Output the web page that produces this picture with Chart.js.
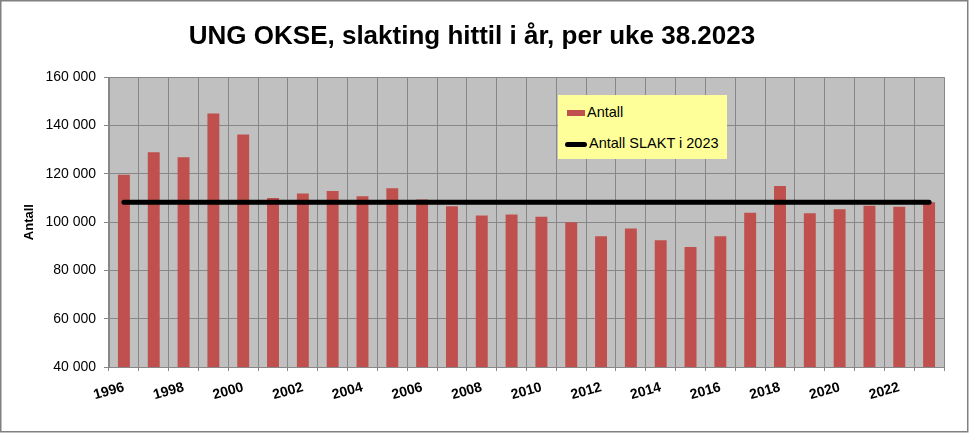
<!DOCTYPE html>
<html>
<head>
<meta charset="utf-8">
<script src="https://cdn.jsdelivr.net/npm/chart.js@4.4.0/dist/chart.umd.min.js"></script>
<style>
  body { margin: 0; background: #fff; }
  #wrap { position: relative; width: 970px; height: 433px; }
  #legend {
    position: absolute; left: 558px; top: 95px; width: 169px; height: 64px;
    background: #ffff99; font-family: "Liberation Sans", Arial, sans-serif; font-size: 14.5px; color: #000;
  }
  #legend .item { position: absolute; left: 7px; height: 18px; line-height: 18px; white-space: nowrap; }
  #legend .sw { display: inline-block; vertical-align: middle; margin-right: 2px; }
</style>
</head>
<body>
<div id="wrap">
  <canvas id="chart-area" width="970" height="433"></canvas>
  <div id="legend"></div>
</div>
<script>
var years = ['1996','1997','1998','1999','2000','2001','2002','2003','2004','2005','2006','2007','2008','2009',
             '2010','2011','2012','2013','2014','2015','2016','2017','2018','2019','2020','2021','2022','2023'];
var antall = [119600, 128900, 126900, 145000, 136300, 110000, 111800, 112900, 110700, 114000, 109400, 106600, 102700, 103100,
              102200, 99900, 94100, 97300, 92500, 89700, 94100, 103900, 115000, 103700, 105300, 106800, 106400, 108200];
var slakt2023 = [108200, 108200, 108200, 108200, 108200, 108200, 108200, 108200, 108200, 108200, 108200, 108200, 108200, 108200,
                 108200, 108200, 108200, 108200, 108200, 108200, 108200, 108200, 108200, 108200, 108200, 108200, 108200, 108200];
var xTickLabels = ['1996','1998','2000','2002','2004','2006','2008','2010','2012','2014','2016','2018','2020','2022'];
var yMin = 40000, yMax = 160000, yStep = 20000;

var barColor = '#c0504d';
var gridColor = '#878787';

function fmt(v) {
    return String(v).replace(/\B(?=(\d{3})+(?!\d))/g, ' ');
}

var bgPlugin = {
    id: 'bg',
    beforeDraw: function(chart) {
        var ctx = chart.ctx, a = chart.chartArea;
        ctx.save();
        ctx.fillStyle = '#ffffff';
        ctx.fillRect(0, 0, chart.width, chart.height);
        ctx.fillStyle = '#c0c0c0';
        ctx.fillRect(a.left, a.top, a.right - a.left, a.bottom - a.top);
        ctx.restore();
    },
    afterDraw: function(chart) {
        var ctx = chart.ctx;
        ctx.save();
        ctx.strokeStyle = '#808080';
        ctx.lineWidth = 1.5;
        ctx.strokeRect(0.75, 0.75, 967, 431);
        ctx.restore();
    }
};

var ctx = document.getElementById('chart-area').getContext('2d');
var myChart = new Chart(ctx, {
    type: 'bar',
    data: {
        labels: years,
        datasets: [
            {
                type: 'bar',
                label: 'Antall',
                data: antall,
                backgroundColor: barColor,
                borderWidth: 0,
                barPercentage: 0.4,
                categoryPercentage: 1,
                order: 1
            },
            {
                type: 'line',
                label: 'Antall SLAKT i 2023',
                data: slakt2023,
                borderColor: '#000000',
                borderWidth: 5,
                borderCapStyle: 'round',
                pointRadius: 0,
                fill: false,
                order: 0
            }
        ]
    },
    options: {
        responsive: false,
        animation: false,
        layout: { padding: { left: 0, right: 26, top: 0, bottom: 0 } },
        plugins: {
            legend: { display: false },
            tooltip: { enabled: false },
            title: {
                display: true,
                text: 'UNG OKSE, slakting hittil i år, per uke 38.2023',
                color: '#000',
                font: { family: '"Liberation Sans", Arial, sans-serif', size: 26, weight: 'bold' },
                padding: { top: 21, bottom: 25 }
            }
        },
        scales: {
            x: {
                grid: { color: gridColor, offset: true, tickLength: 4, drawTicks: true },
                border: { color: gridColor },
                ticks: {
                    autoSkip: false,
                    maxRotation: 16,
                    minRotation: 16,
                    padding: 8,
                    color: '#000',
                    font: { family: '"Liberation Sans", Arial, sans-serif', size: 14, weight: 'bold' },
                    callback: function(val, i) {
                        var l = years[i];
                        return xTickLabels.indexOf(l) >= 0 ? l : '';
                    }
                },
                afterFit: function(s) { s.height = 66; }
            },
            y: {
                min: yMin,
                max: yMax,
                grid: { color: gridColor, tickLength: 5 },
                border: { color: gridColor },
                ticks: {
                    stepSize: yStep,
                    padding: 8,
                    color: '#000',
                    font: { family: '"Liberation Sans", Arial, sans-serif', size: 14 },
                    callback: function(v) { return fmt(v); }
                },
                title: {
                    display: true,
                    text: 'Antall',
                    color: '#000',
                    font: { family: '"Liberation Sans", Arial, sans-serif', size: 13, weight: 'bold' },
                    padding: { top: 22, bottom: 0 }
                },
                afterFit: function(s) { s.width = 109; }
            }
        }
    },
    plugins: [bgPlugin]
});

// legend built from the chart's datasets
var leg = document.getElementById('legend');
myChart.data.datasets.forEach(function(ds, i) {
    var item = document.createElement('div');
    item.className = 'item';
    item.style.top = (i === 0 ? 8 : 39) + 'px';
    var sw = document.createElement('span');
    sw.className = 'sw';
    if (ds.type === 'bar') {
        sw.style.width = '18px'; sw.style.height = '6px'; sw.style.background = ds.backgroundColor;
        sw.style.marginLeft = '2px';
    } else {
        sw.style.width = '22px'; sw.style.height = '5px'; sw.style.background = ds.borderColor;
        sw.style.borderRadius = '3px';
    }
    item.appendChild(sw);
    item.appendChild(document.createTextNode(ds.label));
    leg.appendChild(item);
});
</script>
</body>
</html>
